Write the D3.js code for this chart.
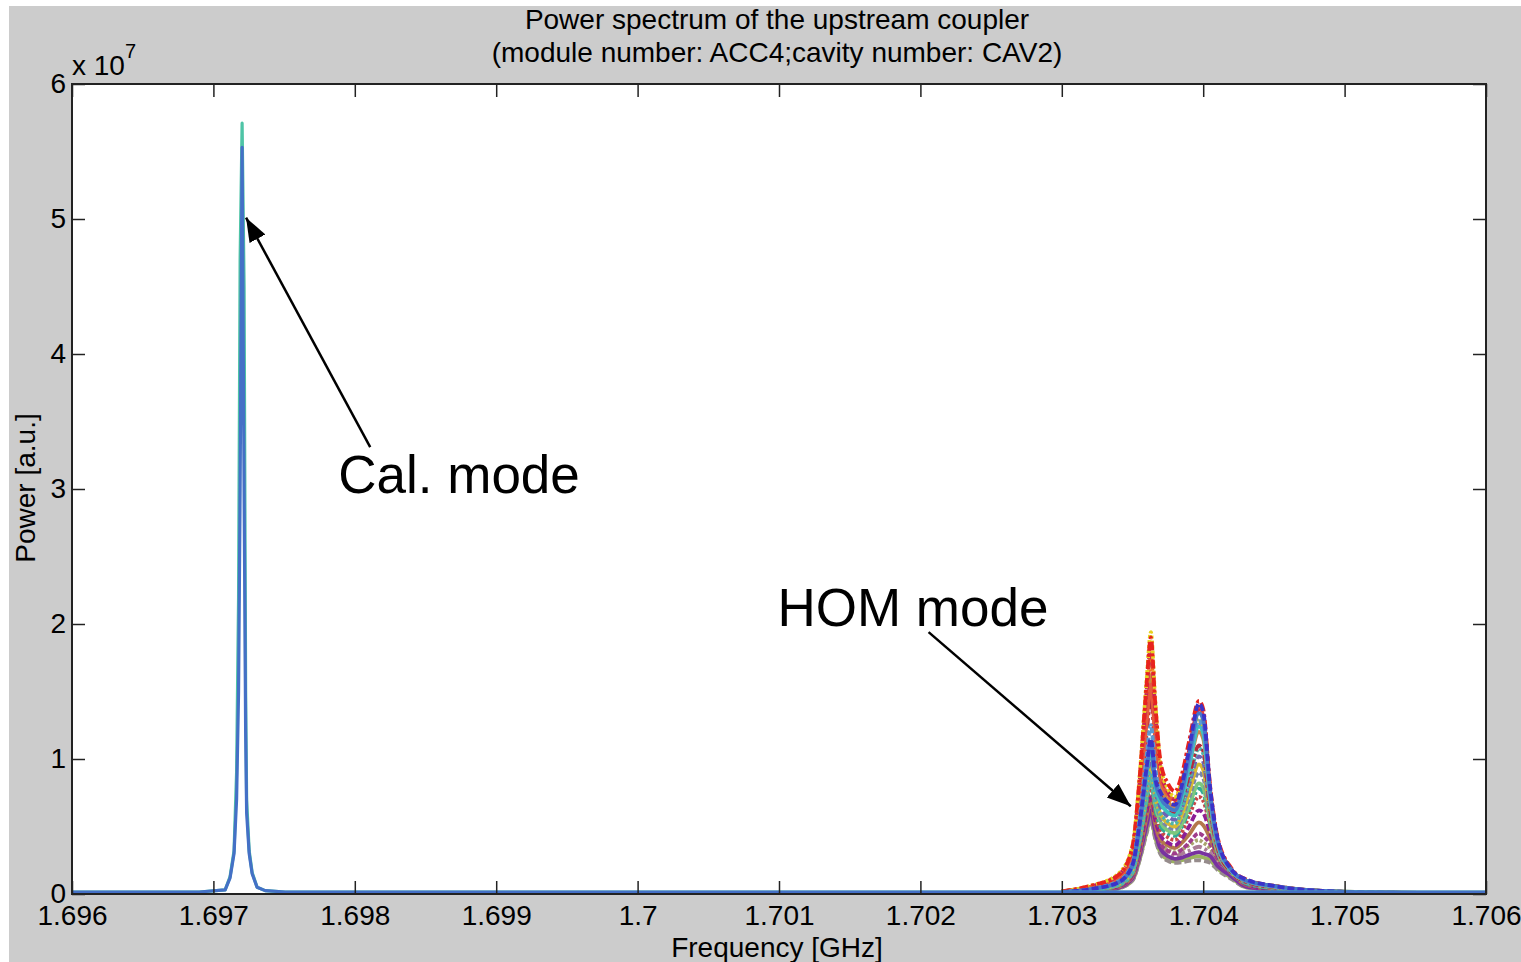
<!DOCTYPE html>
<html>
<head>
<meta charset="utf-8">
<script src="https://cdn.jsdelivr.net/npm/d3@7"></script>
<style>
  html, body { margin: 0; padding: 0; background: #ffffff; }
  svg { display: block; }
  text { font-family: "Liberation Sans", Arial, Helvetica, sans-serif; fill: #000; }
</style>
</head>
<body>
<svg id="chart" width="1521" height="962"></svg>
<script>
// ---------------- data (power in units of 1e7) ----------------
const xTickValues = [1.696, 1.697, 1.698, 1.699, 1.700, 1.701, 1.702, 1.703, 1.704, 1.705, 1.706];
const xTickLabels = ["1.696", "1.697", "1.698", "1.699", "1.7", "1.701", "1.702", "1.703", "1.704", "1.705", "1.706"];
const yTickValues = [0, 1, 2, 3, 4, 5, 6];
const yTickLabels = ["0", "1", "2", "3", "4", "5", "6"];

// Calibration mode spectra (frequency in GHz)
const calFreq = [1.6960, 1.6969, 1.697083, 1.697118, 1.697146, 1.697164, 1.697178, 1.697189, 1.697203, 1.697217, 1.697228, 1.697235, 1.697253, 1.697274, 1.697309, 1.697366, 1.697507, 1.7060];
const calCyan = [0.015, 0.015, 0.03, 0.13, 0.32, 0.9, 2.2, 4.7, 5.71, 4.5, 1.5, 0.7, 0.32, 0.16, 0.05, 0.025, 0.015, 0.015];
const calBlue = [0.015, 0.015, 0.03, 0.12, 0.30, 0.70, 1.5, 3.0, 5.53, 3.0, 1.2, 0.6, 0.3, 0.15, 0.05, 0.025, 0.015, 0.015];
const calColors = ["#4ec4a6", "#4470c6"];

// HOM mode spectra (frequency in GHz)
const homFreq = [1.7030, 1.7032, 1.7034, 1.7035, 1.70355, 1.7036, 1.70363, 1.70366, 1.7037, 1.70375, 1.7038, 1.70385, 1.7039, 1.70397, 1.7040, 1.70405, 1.7041, 1.7042, 1.7043, 1.7045, 1.7048, 1.7053, 1.7060];
const homValues = [
  [.007,.017,.042,.10,.25,.46,.56,.42,.30,.255,.24,.25,.265,.28,.27,.25,.19,.12,.05,.03,.014,.007,.005],
  [.007,.016,.041,.10,.25,.45,.55,.41,.29,.245,.23,.235,.245,.25,.245,.23,.18,.11,.05,.03,.014,.007,.005],
  [.008,.019,.048,.12,.29,.52,.64,.48,.37,.33,.31,.33,.36,.40,.38,.34,.25,.15,.065,.03,.015,.008,.005],
  [.007,.018,.045,.11,.27,.49,.60,.45,.34,.30,.28,.30,.32,.35,.34,.30,.23,.14,.06,.03,.015,.007,.005],
  [.007,.019,.046,.115,.28,.51,.62,.465,.33,.28,.26,.27,.29,.31,.30,.28,.21,.13,.055,.03,.015,.007,.005],
  [.008,.02,.051,.125,.31,.56,.68,.51,.37,.32,.30,.33,.38,.45,.43,.37,.26,.15,.065,.032,.015,.008,.005],
  [.008,.021,.053,.13,.315,.57,.70,.525,.40,.36,.34,.38,.44,.53,.51,.41,.28,.16,.07,.035,.016,.008,.005],
  [.009,.022,.056,.14,.33,.61,.74,.555,.43,.38,.36,.41,.50,.62,.60,.45,.29,.16,.075,.035,.017,.008,.005],
  [.01,.024,.06,.15,.36,.66,.80,.60,.47,.42,.40,.46,.58,.72,.69,.50,.31,.17,.08,.04,.018,.008,.005],
  [.01,.025,.063,.155,.38,.69,.84,.63,.50,.45,.43,.50,.62,.78,.75,.52,.31,.16,.08,.04,.02,.009,.005],
  [.011,.026,.066,.16,.40,.72,.88,.66,.53,.47,.45,.52,.65,.82,.79,.53,.31,.16,.085,.045,.02,.009,.005],
  [.011,.028,.07,.17,.42,.76,.93,.70,.56,.50,.48,.564,.71,.90,.86,.56,.32,.16,.085,.045,.02,.009,.005],
  [.012,.029,.073,.18,.44,.80,.97,.73,.585,.524,.50,.59,.75,.96,.92,.58,.33,.16,.09,.05,.022,.01,.005],
  [.012,.031,.077,.19,.46,.84,1.02,.765,.635,.574,.55,.64,.81,1.02,.98,.60,.34,.16,.09,.05,.022,.01,.005],
  [.011,.027,.068,.165,.405,.74,.90,.675,.59,.54,.52,.63,.83,1.08,1.04,.62,.35,.16,.09,.05,.022,.01,.005],
  [.017,.044,.11,.27,.65,1.19,1.45,1.09,.75,.64,.60,.70,.88,1.10,1.06,.63,.35,.16,.09,.05,.022,.01,.005],
  [.019,.049,.12,.30,.73,1.33,1.62,1.215,.82,.69,.64,.75,.95,1.20,1.15,.67,.37,.17,.10,.055,.024,.01,.005],
  [.02,.053,.13,.32,.79,1.44,1.76,1.32,.87,.73,.68,.80,1.00,1.26,1.21,.70,.39,.17,.10,.055,.024,.01,.005],
  [.019,.047,.12,.285,.70,1.27,1.55,1.16,.85,.74,.70,.84,1.05,1.38,1.32,.76,.41,.18,.10,.06,.025,.01,.005],
  [.02,.055,.14,.34,.83,1.51,1.84,1.38,.91,.76,.70,.83,1.06,1.36,1.31,.75,.41,.18,.10,.06,.025,.01,.005],
  [.02,.06,.15,.36,.87,1.59,1.94,1.455,.94,.78,.72,.84,1.04,1.30,1.25,.72,.39,.17,.10,.06,.025,.01,.005],
  [.02,.06,.14,.35,.855,1.56,1.90,1.425,.97,.82,.76,.89,1.13,1.43,1.37,.79,.43,.19,.11,.06,.025,.01,.005],
  [.013,.032,.081,.20,.49,.89,1.08,.81,.67,.605,.58,.71,.94,1.24,1.19,.69,.38,.17,.10,.055,.024,.01,.005],
  [.015,.038,.094,.23,.56,1.025,1.25,.94,.73,.65,.62,.75,.98,1.28,1.23,.71,.39,.17,.10,.055,.024,.01,.005],
  [.013,.034,.084,.21,.50,.92,1.12,.84,.71,.645,.62,.76,1.02,1.34,1.29,.74,.40,.18,.10,.06,.025,.01,.005],
  [.014,.035,.086,.215,.52,.94,1.15,.86,.75,.68,.66,.81,1.07,1.41,1.35,.78,.42,.18,.11,.06,.025,.01,.005]
];
const homColors = [
  "#9bb45f", "#968c8c", "#aaa56e", "#aa7d96", "#7832a0", "#a03c8c", "#b4784b", "#8c1e96",
  "#c84646", "#32aa96", "#7dc87d", "#7887aa", "#d7b932", "#6e64b4", "#50b4aa", "#b4283c",
  "#c8874b", "#f0781e", "#e65a3c", "#c8205a", "#e6d21e", "#e8231e", "#3cc3be", "#5a9bd2",
  "#4678c8", "#3c32c8"
];

// Annotations (data coordinates: GHz, 1e7)
const annoLabels = ["Cal. mode", "HOM mode"];
const annoTextAt = [[1.697883, 2.97], [1.700989, 1.985]];
const annoArrowFrom = [[1.698109, 3.31], [1.702058, 1.94]];
const annoArrowTo = [[1.697231, 5.01], [1.703488, 0.65]];

// ---------------- layout ----------------
const W = 1521, H = 962;
const plot = { left: 72, right: 1486, top: 84, bottom: 894 };
const svg = d3.select("#chart");

svg.append("rect").attr("x", 0).attr("y", 0).attr("width", W).attr("height", H).attr("fill", "#ffffff");
svg.append("rect").attr("x", 9).attr("y", 6).attr("width", W - 9).attr("height", H - 6).attr("fill", "#cccccc");
svg.append("rect").attr("x", plot.left).attr("y", plot.top)
  .attr("width", plot.right - plot.left).attr("height", plot.bottom - plot.top).attr("fill", "#ffffff");

const x = d3.scaleLinear().domain([1.696, 1.706]).range([plot.left, plot.right]);
const y = d3.scaleLinear().domain([0, 6]).range([plot.bottom, plot.top]);

svg.append("defs").append("clipPath").attr("id", "clip")
  .append("rect").attr("x", plot.left).attr("y", plot.top)
  .attr("width", plot.right - plot.left).attr("height", plot.bottom - plot.top);

const g = svg.append("g").attr("clip-path", "url(#clip)");

// HOM curves
const homLine = d3.line().x(d => x(d[0])).y(d => y(d[1])).curve(d3.curveMonotoneX);
const dashes = [null, "7,3", "3,2", "9,3,3,3", null, "5,2"];
homValues.forEach((vals, i) => {
  const pts = homFreq.map((f, j) => [f, vals[j]]);
  g.append("path").datum(pts)
    .attr("d", homLine)
    .attr("fill", "none")
    .attr("stroke", homColors[i])
    .attr("stroke-width", 3.8)
    .attr("stroke-linejoin", "round")
    .attr("stroke-dasharray", dashes[i % dashes.length]);
});

// Calibration curves
const calLine = d3.line().x(d => x(d[0])).y(d => y(d[1]));
[calCyan, calBlue].forEach((vals, i) => {
  const pts = calFreq.map((f, j) => [f, vals[j]]);
  g.append("path").datum(pts)
    .attr("d", calLine)
    .attr("fill", "none")
    .attr("stroke", calColors[i])
    .attr("stroke-width", 3.2)
    .attr("stroke-linejoin", "round");
});

// Axes
const fontSize = 28;
const tickLen = 13;
const xAxis = d3.axisBottom(x).tickValues(xTickValues)
  .tickFormat((d, i) => xTickLabels[i]).tickSizeInner(-tickLen).tickSizeOuter(0).tickPadding(11);
const xAxisTop = d3.axisTop(x).tickValues(xTickValues).tickFormat("").tickSizeInner(-tickLen).tickSizeOuter(0);
const yAxis = d3.axisLeft(y).tickValues(yTickValues)
  .tickFormat((d, i) => yTickLabels[i]).tickSizeInner(-tickLen).tickSizeOuter(0).tickPadding(6);
const yAxisRight = d3.axisRight(y).tickValues(yTickValues).tickFormat("").tickSizeInner(-tickLen).tickSizeOuter(0);

function styleAxis(sel) {
  sel.select(".domain").remove();
  sel.selectAll(".tick line").attr("stroke", "#222").attr("stroke-width", 1.5);
  sel.selectAll(".tick text").attr("font-size", fontSize)
    .attr("font-family", "'Liberation Sans', Arial, sans-serif").attr("fill", "#000");
}
svg.append("g").attr("transform", `translate(0,${plot.bottom})`).call(xAxis).call(styleAxis);
svg.append("g").attr("transform", `translate(0,${plot.top})`).call(xAxisTop).call(styleAxis);
svg.append("g").attr("transform", `translate(${plot.left},0)`).call(yAxis).call(styleAxis);
svg.append("g").attr("transform", `translate(${plot.right},0)`).call(yAxisRight).call(styleAxis);

svg.append("rect").attr("x", plot.left).attr("y", plot.top)
  .attr("width", plot.right - plot.left).attr("height", plot.bottom - plot.top)
  .attr("fill", "none").attr("stroke", "#222").attr("stroke-width", 2);

// exponent label
const expo = svg.append("text").attr("x", plot.left).attr("y", 75).attr("font-size", fontSize);
expo.append("tspan").text("x 10");
expo.append("tspan").attr("dy", -17).attr("font-size", 20).text("7");

// title
const cx = (plot.left + plot.right) / 2 - 2;
svg.append("text").attr("x", cx).attr("y", 29).attr("text-anchor", "middle").attr("font-size", fontSize)
  .text("Power spectrum of the upstream coupler");
svg.append("text").attr("x", cx).attr("y", 62).attr("text-anchor", "middle").attr("font-size", fontSize)
  .text("(module number: ACC4;cavity number: CAV2)");

// axis labels
svg.append("text").attr("x", cx).attr("y", 957).attr("text-anchor", "middle").attr("font-size", fontSize)
  .text("Frequency [GHz]");
svg.append("text").attr("transform", "translate(35,488) rotate(-90)").attr("text-anchor", "middle")
  .attr("font-size", fontSize).text("Power [a.u.]");

// annotations
const defs = svg.select("defs");
defs.append("marker").attr("id", "arrowhead").attr("markerUnits", "userSpaceOnUse")
  .attr("markerWidth", 26).attr("markerHeight", 20).attr("refX", 24).attr("refY", 9)
  .attr("orient", "auto")
  .append("path").attr("d", "M0,0 L24,9 L0,18 Z").attr("fill", "#000");

annoLabels.forEach((lab, i) => {
  svg.append("line")
    .attr("x1", x(annoArrowFrom[i][0])).attr("y1", y(annoArrowFrom[i][1]))
    .attr("x2", x(annoArrowTo[i][0])).attr("y2", y(annoArrowTo[i][1]))
    .attr("stroke", "#000").attr("stroke-width", 2.5)
    .attr("marker-end", "url(#arrowhead)");
  svg.append("text").attr("x", x(annoTextAt[i][0])).attr("y", y(annoTextAt[i][1]))
    .attr("font-size", 53).text(lab);
});
</script>
</body>
</html>
